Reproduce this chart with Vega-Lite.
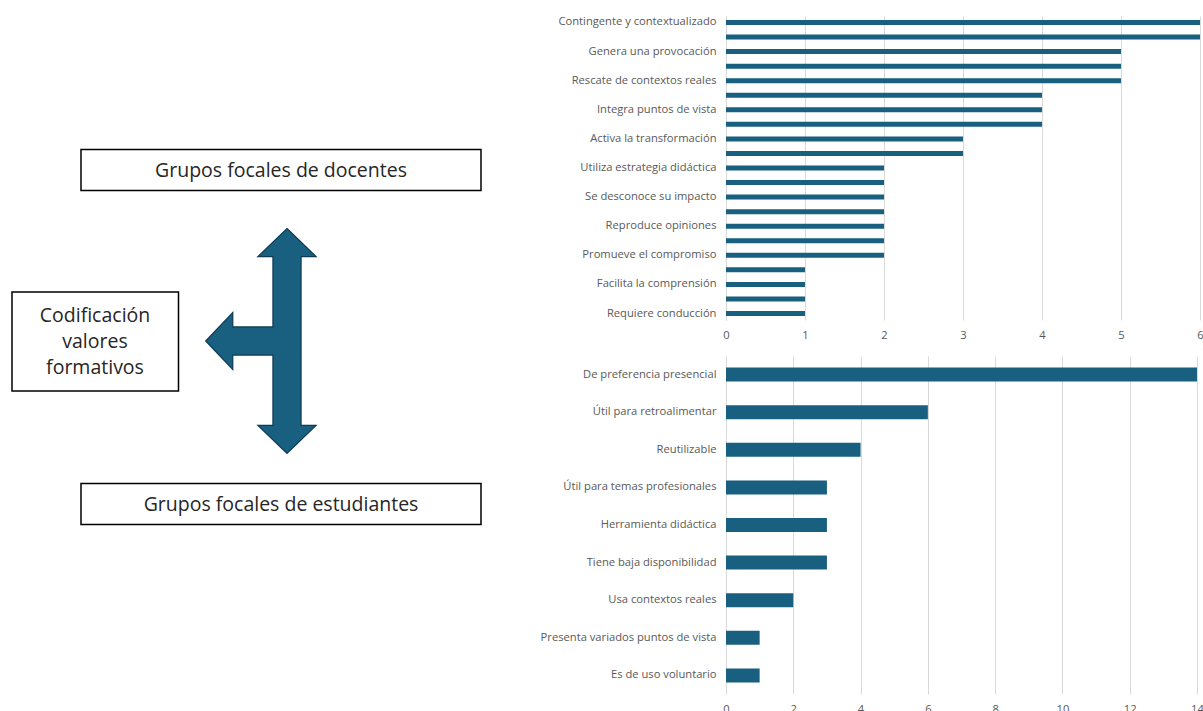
{
  "$schema": "https://vega.github.io/schema/vega-lite/v6.json",
  "background": "white",
  "padding": {"left": 0, "top": 15, "right": 0, "bottom": 0},
  "autosize": {"type": "pad"},
  "bounds": "flush",
  "spacing": 0,
  "config": {
    "view": {"stroke": null},
    "font": "Open Sans",
    "axis": {"labelFont": "Open Sans", "labelColor": "#595959", "labelFontSize": 11.2}
  },
  "datasets": {
    "cajas": [
      {"caja": "docentes", "x1": 81, "x2": 481, "y1": 148.5, "y2": 189.5},
      {"caja": "codificacion", "x1": 12, "x2": 178.5, "y1": 291, "y2": 390},
      {"caja": "estudiantes", "x1": 81, "x2": 481, "y1": 482.5, "y2": 523.5}
    ],
    "textos": [
      {"texto": "Grupos focales de docentes", "x": 281, "y": 169.5},
      {"texto": "Codificación\nvalores\nformativos", "x": 95, "y": 315},
      {"texto": "Grupos focales de estudiantes", "x": 281, "y": 503.5}
    ],
    "flecha": [
      {"elemento": "flecha", "x": 287, "y": 340}
    ],
    "docentes": [
      {"categoria": "Contingente y contextualizado", "valor": 6},
      {"categoria": "_02", "valor": 6},
      {"categoria": "Genera una provocación", "valor": 5},
      {"categoria": "_04", "valor": 5},
      {"categoria": "Rescate de contextos reales", "valor": 5},
      {"categoria": "_06", "valor": 4},
      {"categoria": "Integra puntos de vista", "valor": 4},
      {"categoria": "_08", "valor": 4},
      {"categoria": "Activa la transformación", "valor": 3},
      {"categoria": "_10", "valor": 3},
      {"categoria": "Utiliza estrategia didáctica", "valor": 2},
      {"categoria": "_12", "valor": 2},
      {"categoria": "Se desconoce su impacto", "valor": 2},
      {"categoria": "_14", "valor": 2},
      {"categoria": "Reproduce opiniones", "valor": 2},
      {"categoria": "_16", "valor": 2},
      {"categoria": "Promueve el compromiso", "valor": 2},
      {"categoria": "_18", "valor": 1},
      {"categoria": "Facilita la comprensión", "valor": 1},
      {"categoria": "_20", "valor": 1},
      {"categoria": "Requiere conducción", "valor": 1}
    ],
    "estudiantes": [
      {"categoria": "De preferencia presencial", "valor": 14},
      {"categoria": "Útil para retroalimentar", "valor": 6},
      {"categoria": "Reutilizable", "valor": 4},
      {"categoria": "Útil para temas profesionales", "valor": 3},
      {"categoria": "Herramienta didáctica", "valor": 3},
      {"categoria": "Tiene baja disponibilidad", "valor": 3},
      {"categoria": "Usa contextos reales", "valor": 2},
      {"categoria": "Presenta variados puntos de vista", "valor": 1},
      {"categoria": "Es de uso voluntario", "valor": 1}
    ]
  },
  "hconcat": [
    {
      "width": 726,
      "height": 696,
      "layer": [
        {
          "data": {"name": "cajas"},
          "mark": {"type": "rect", "fill": "white", "stroke": "#000000", "strokeWidth": 1.5},
          "encoding": {
            "x": {"field": "x1", "type": "quantitative", "scale": {"domain": [0, 726], "nice": false, "zero": false}, "axis": null},
            "x2": {"field": "x2"},
            "y": {"field": "y1", "type": "quantitative", "scale": {"domain": [15, 711], "reverse": true, "nice": false, "zero": false}, "axis": null},
            "y2": {"field": "y2"}
          }
        },
        {
          "data": {"name": "textos"},
          "mark": {"type": "text", "font": "Open Sans", "fontSize": 19.5, "color": "#262626", "lineBreak": "\n", "lineHeight": 25.8, "baseline": "middle", "align": "center"},
          "encoding": {
            "x": {"field": "x", "type": "quantitative", "scale": {"domain": [0, 726], "nice": false, "zero": false}, "axis": null},
            "y": {"field": "y", "type": "quantitative", "scale": {"domain": [15, 711], "reverse": true, "nice": false, "zero": false}, "axis": null},
            "text": {"field": "texto", "type": "nominal"}
          }
        },
        {
          "data": {"name": "flecha"},
          "mark": {
            "type": "point",
            "shape": "M0,-1L0.259,-0.75L0.125,-0.75L0.125,0.75L0.259,0.75L0,1L-0.259,0.75L-0.125,0.75L-0.125,0.125L-0.482,0.125L-0.482,0.254L-0.723,0L-0.482,-0.254L-0.482,-0.125L-0.125,-0.125L-0.125,-0.75L-0.259,-0.75Z",
            "size": 50625,
            "filled": true,
            "fill": "#185f80",
            "stroke": "#0e3b52",
            "strokeWidth": 1.2,
            "opacity": 1,
            "fillOpacity": 1
          },
          "encoding": {
            "x": {"field": "x", "type": "quantitative", "scale": {"domain": [0, 726], "nice": false, "zero": false}, "axis": null},
            "y": {"field": "y", "type": "quantitative", "scale": {"domain": [15, 711], "reverse": true, "nice": false, "zero": false}, "axis": null}
          }
        }
      ]
    },
    {
      "bounds": "flush",
      "spacing": 36,
      "vconcat": [
        {
          "width": 474,
          "height": 304,
          "data": {"name": "docentes"},
          "mark": {"type": "bar", "color": "#185f80"},
          "encoding": {
            "y": {
              "field": "categoria", "type": "nominal", "sort": null,
              "scale": {"paddingInner": 0.656, "paddingOuter": 0.273},
              "axis": {"title": null, "labelExpr": "indexof(datum.label, '_') == 0 ? '' : datum.label", "ticks": false, "domain": true, "domainColor": "#d9d9d9", "domainWidth": 1, "labelPadding": 10, "grid": false}
            },
            "x": {
              "field": "valor", "type": "quantitative",
              "scale": {"domain": [0, 6], "nice": false},
              "axis": {"title": null, "values": [0, 1, 2, 3, 4, 5, 6], "grid": true, "gridColor": "#d9d9d9", "ticks": false, "domain": false, "labelPadding": 9, "labelFlush": false}
            }
          }
        },
        {
          "width": 471,
          "height": 338,
          "data": {"name": "estudiantes"},
          "mark": {"type": "bar", "color": "#185f80"},
          "encoding": {
            "y": {
              "field": "categoria", "type": "nominal", "sort": null,
              "scale": {"paddingInner": 0.628, "paddingOuter": 0.309},
              "axis": {"title": null, "ticks": false, "domain": true, "domainColor": "#d9d9d9", "domainWidth": 1, "labelPadding": 10, "grid": false}
            },
            "x": {
              "field": "valor", "type": "quantitative",
              "scale": {"domain": [0, 14], "nice": false},
              "axis": {"title": null, "values": [0, 2, 4, 6, 8, 10, 12, 14], "grid": true, "gridColor": "#d9d9d9", "ticks": false, "domain": false, "labelPadding": 9, "labelFlush": false}
            }
          }
        }
      ]
    }
  ]
}
